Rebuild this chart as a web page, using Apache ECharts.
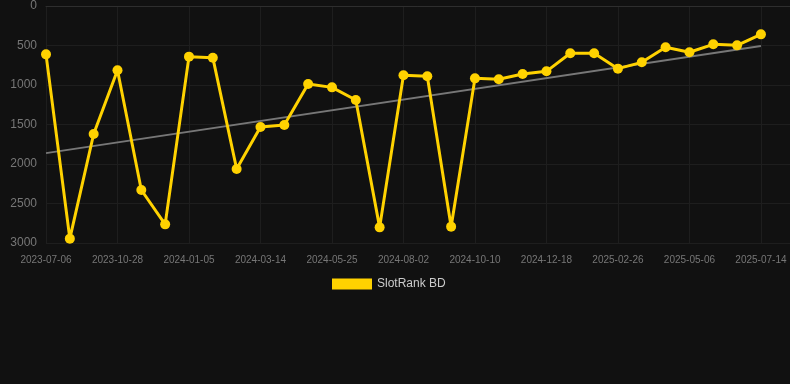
<!DOCTYPE html>
<html>
<head>
<meta charset="utf-8">
<script src="https://cdn.jsdelivr.net/npm/echarts@6/dist/echarts.min.js"></script>
<style>html,body{margin:0;padding:0;background:#111111;}#c{width:790px;height:384px;}</style>
</head>
<body>
<div id="c"></div>
<script>
const categories = ['2023-07-06','2023-08-14','2023-09-21','2023-10-28','2023-11-20','2023-12-13','2024-01-05','2024-01-28','2024-02-20','2024-03-14','2024-04-07','2024-05-01','2024-05-25','2024-06-17','2024-07-10','2024-08-02','2024-08-25','2024-09-17','2024-10-10','2024-11-02','2024-11-25','2024-12-18','2025-01-10','2025-02-03','2025-02-26','2025-03-21','2025-04-13','2025-05-06','2025-05-29','2025-06-21','2025-07-14'];
const rankValues = [612,2945,1620,814,2329,2764,641,654,2063,1532,1506,987,1030,1190,2802,877,890,2793,916,928,861,827,599,599,793,713,523,586,485,498,359];
const yTicks = [0,500,1000,1500,2000,2500,3000];
const seriesName = 'SlotRank BD';

// linear regression trend over the series
const n = rankValues.length;
let sx=0, sy=0, sxy=0, sxx=0;
rankValues.forEach((v,i)=>{sx+=i;sy+=v;sxy+=i*v;sxx+=i*i;});
const slope = (n*sxy - sx*sy)/(n*sxx - sx*sx);
const intercept = (sy - slope*sx)/n;
const trendData = [[0, intercept], [n-1, intercept + slope*(n-1)]];

const chart = echarts.init(document.getElementById('c'));
chart.setOption({
  backgroundColor: '#111111',
  animation: false,
  grid: {left: 46, right: 0, top: 6, bottom: 141, containLabel: false},
  legend: {
    data: [seriesName],
    top: 273,
    left: 327,
    itemWidth: 40,
    itemHeight: 11,
    itemGap: 6,
    icon: 'rect',
    textStyle: {color: '#cccccc', fontSize: 12, fontFamily: 'Liberation Sans, Arial, sans-serif'}
  },
  xAxis: {
    type: 'value',
    min: 0,
    max: 31.22,
    interval: 3,
    axisLine: {show: true, lineStyle: {color: '#2e2e2e'}},
    axisTick: {show: false},
    splitLine: {show: true, lineStyle: {color: '#1e1e1e'}},
    axisLabel: {
      color: '#777777', fontSize: 10, margin: 12,
      fontFamily: 'Liberation Sans, Arial, sans-serif',
      showMaxLabel: false,
      formatter: v => (Number.isInteger(v) && v % 3 === 0 && categories[v]) ? categories[v] : ''
    }
  },
  yAxis: {
    type: 'value',
    inverse: true,
    min: yTicks[0],
    max: yTicks[yTicks.length-1],
    interval: 500,
    axisLine: {show: false},
    axisTick: {show: false},
    splitLine: {show: true, lineStyle: {color: '#1e1e1e'}},
    axisLabel: {color: '#777777', fontSize: 12, margin: 9, fontFamily: 'Liberation Sans, Arial, sans-serif', formatter: v => String(v)}
  },
  series: [
    {
      name: 'trend',
      type: 'line',
      data: trendData,
      symbol: 'none',
      lineStyle: {color: '#777777', width: 2},
      z: 1,
      silent: true
    },
    {
      name: seriesName,
      type: 'line',
      data: rankValues.map((v,i)=>[i,v]),
      symbol: 'circle',
      symbolSize: 10,
      itemStyle: {color: '#FFD200'},
      lineStyle: {color: '#FFD200', width: 3},
      z: 2
    }
  ]
});
</script>
</body>
</html>
